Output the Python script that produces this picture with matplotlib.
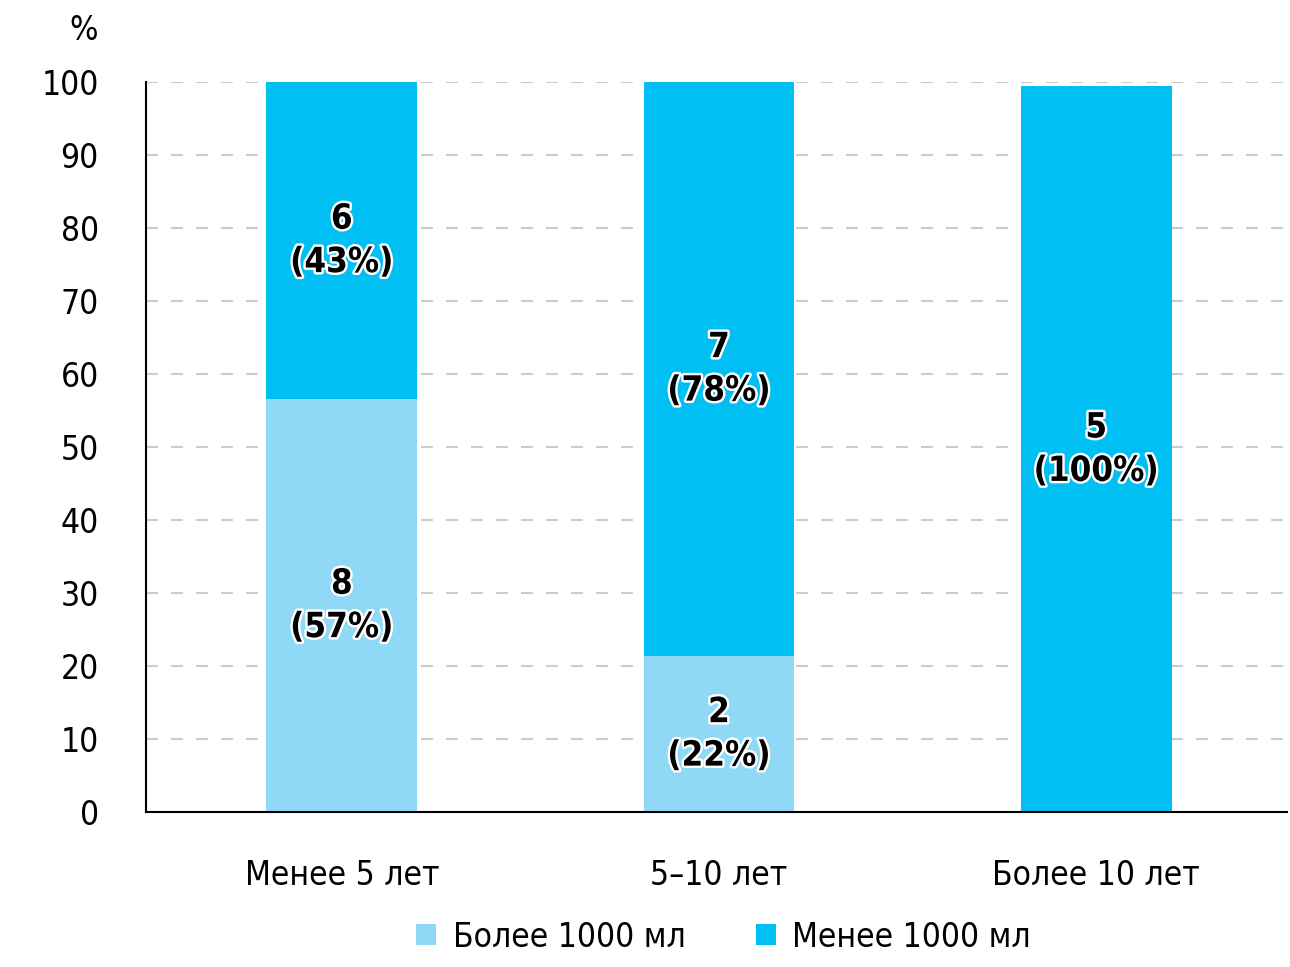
import matplotlib
matplotlib.use("Agg")
import matplotlib.pyplot as plt
import matplotlib.patheffects as pe

categories = ["Менее 5 лет", "5–10 лет", "Более 10 лет"]
series_names = ["Более 1000 мл", "Менее 1000 мл"]
light_vals = [56.6, 21.4, 0.0]
dark_vals = [43.4, 78.6, 99.4]
light_labels = ["8\n(57%)", "2\n(22%)", ""]
dark_labels = ["6\n(43%)", "7\n(78%)", "5\n(100%)"]
yticks = [0, 10, 20, 30, 40, 50, 60, 70, 80, 90, 100]

plt.rcParams['font.family'] = ["DejaVu Sans"]
plt.rcParams['font.stretch'] = 'condensed'
plt.rcParams['lines.scale_dashes'] = False

LIGHT = "#8fd9f6"
DARK = "#00bff3"

fig = plt.figure(figsize=(12.9, 9.67), dpi=100)
ax = fig.add_axes([0.1132, 0.1603, 0.8845, 0.7549])

x = list(range(len(categories)))
ax.bar(x, light_vals, width=0.40, color=LIGHT, zorder=2, label=series_names[0])
ax.bar(x, dark_vals, width=0.40, bottom=light_vals, color=DARK, zorder=2, label=series_names[1])

stroke = [pe.withStroke(linewidth=3.5, foreground="white")]
for i in x:
    if light_labels[i]:
        ax.text(i, light_vals[i] / 2, light_labels[i], ha="center", va="center",
                fontsize=25, fontweight="bold", fontstretch="condensed", linespacing=1.35,
                zorder=3, path_effects=stroke)
    if dark_labels[i]:
        ax.text(i, light_vals[i] + dark_vals[i] / 2, dark_labels[i], ha="center", va="center",
                fontsize=25, fontweight="bold", fontstretch="condensed", linespacing=1.35,
                zorder=3, path_effects=stroke)

ax.set_xlim(-0.519, 2.506)
ax.set_ylim(0, 100)
ax.set_yticks(yticks)
ax.set_yticklabels([str(v) for v in yticks])
ax.set_xticks(x)
ax.set_xticklabels(categories)
ax.tick_params(axis="both", length=0, labelsize=24)
ax.tick_params(axis="y", pad=34)
ax.tick_params(axis="x", pad=34)
ax.yaxis.grid(True, color="#cccccc", linewidth=1.5, linestyle=(0, (8.6, 9.4)), zorder=0)
ax.set_axisbelow(True)
for s in ["top", "right"]:
    ax.spines[s].set_visible(False)
for s in ["left", "bottom"]:
    ax.spines[s].set_linewidth(1.5)
    ax.spines[s].set_color("black")

fig.text(0.076, 0.968, "%", ha="right", va="center", fontsize=24)

fig.legend(loc="center", bbox_to_anchor=(0.561, 0.031), ncol=2, frameon=False,
           fontsize=24, handlelength=0.6, handleheight=0.6, handletextpad=0.5,
           columnspacing=2.1)

fig.savefig("out.png", dpi=100)
